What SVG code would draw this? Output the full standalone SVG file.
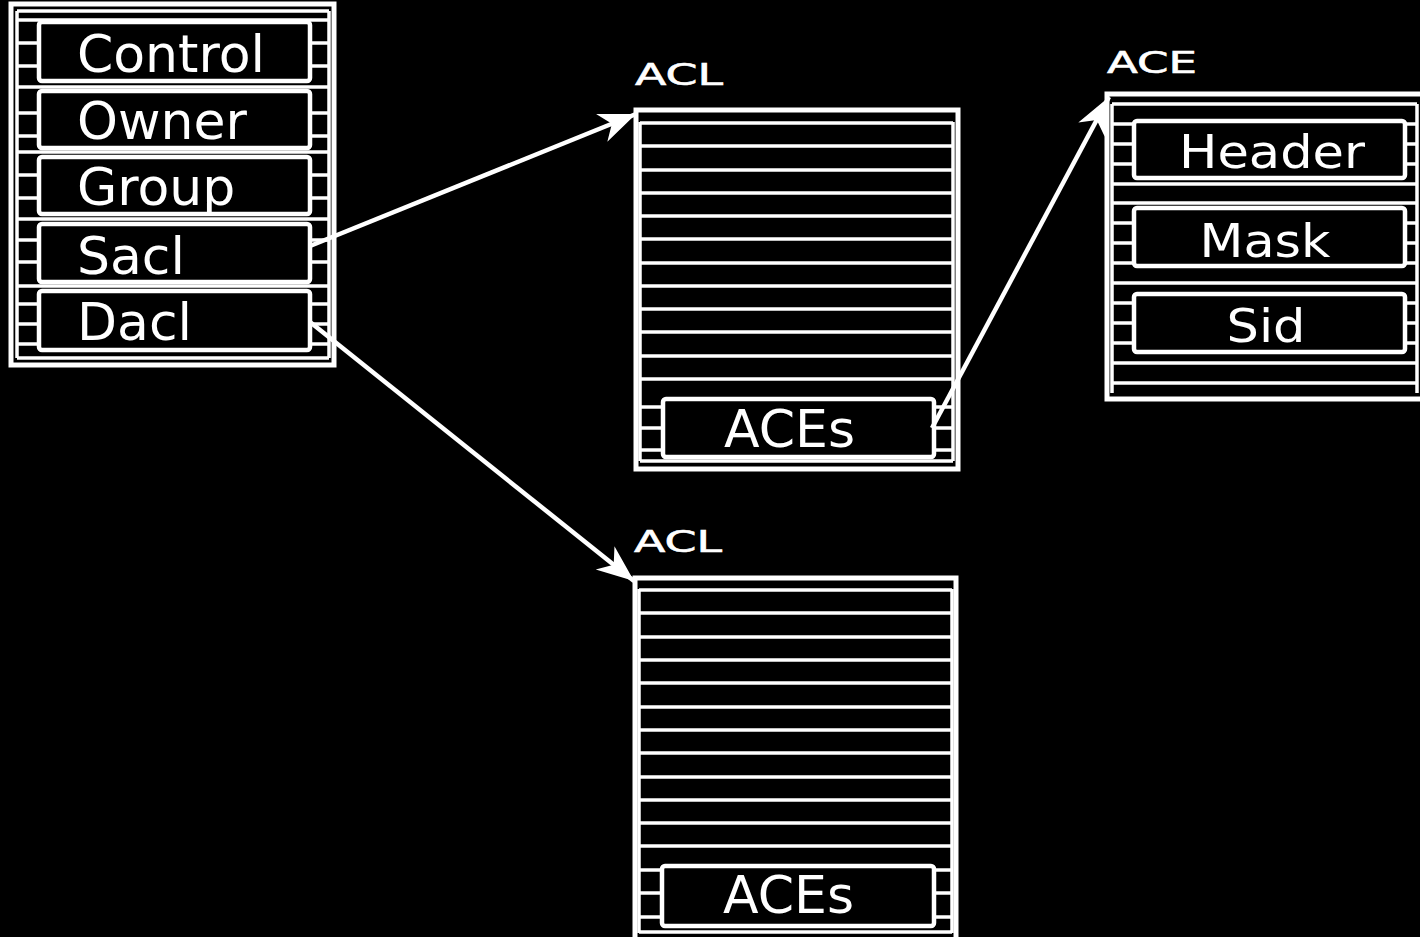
<svg xmlns="http://www.w3.org/2000/svg" width="1420" height="937" viewBox="0 0 1420 937">
  <defs>
    <style>
      .frame { fill: none; stroke: #fff; stroke-width: 5; }
      .rule { stroke: #fff; stroke-width: 3.5; }
      .field { fill: #000; stroke: #fff; stroke-width: 4.5; }
      .big { fill: #fff; font-family: "DejaVu Sans", Verdana, sans-serif; font-size: 52px; }
      .mid { fill: #fff; font-family: "DejaVu Sans", Verdana, sans-serif; font-size: 46px; }
      .title { fill: #fff; font-family: "DejaVu Sans", sans-serif; font-size: 30px; stroke: #fff; stroke-width: 0.6; }
      .link { stroke: #fff; stroke-width: 4.5; fill: none; }
    </style>
    <marker id="arrow" markerUnits="userSpaceOnUse" markerWidth="40" markerHeight="34" refX="0" refY="0" orient="auto" overflow="visible">
      <path d="M0,0 L-37,-15 L-26,0 L-37,15 Z" fill="#fff"/>
    </marker>
  </defs>

  <rect x="0" y="0" width="1420" height="937" fill="#000"/>

  <!-- security descriptor -->
  <g id="descriptor">
    <rect class="frame" x="11" y="4" width="323" height="361"/>
    <line class="rule" x1="17" y1="11" x2="17" y2="358"/>
    <line class="rule" x1="329" y1="11" x2="329" y2="358"/>
    <g class="rule">
      <line x1="17" y1="11" x2="329" y2="11"/>
      <line x1="17" y1="20" x2="329" y2="20"/>
      <line x1="17" y1="43" x2="329" y2="43"/>
      <line x1="17" y1="66" x2="329" y2="66"/>
      <line x1="17" y1="87" x2="329" y2="87"/>
      <line x1="17" y1="113" x2="329" y2="113"/>
      <line x1="17" y1="136" x2="329" y2="136"/>
      <line x1="17" y1="152" x2="329" y2="152"/>
      <line x1="17" y1="175" x2="329" y2="175"/>
      <line x1="17" y1="198" x2="329" y2="198"/>
      <line x1="17" y1="219" x2="329" y2="219"/>
      <line x1="17" y1="240" x2="329" y2="240"/>
      <line x1="17" y1="262" x2="329" y2="262"/>
      <line x1="17" y1="286" x2="329" y2="286"/>
      <line x1="17" y1="304" x2="329" y2="304"/>
      <line x1="17" y1="324" x2="329" y2="324"/>
      <line x1="17" y1="344" x2="329" y2="344"/>
      <line x1="17" y1="358" x2="329" y2="358"/>
    </g>
    <rect class="field" x="39" y="22" width="271" height="59" rx="3"/>
    <rect class="field" x="39" y="91" width="271" height="57" rx="3"/>
    <rect class="field" x="39" y="157" width="271" height="57" rx="3"/>
    <rect class="field" x="39" y="224" width="271" height="58" rx="3"/>
    <rect class="field" x="39" y="291" width="271" height="59" rx="3"/>
    <text class="big" x="77" y="72">Control</text>
    <text class="big" x="77" y="139">Owner</text>
    <text class="big" x="77" y="205">Group</text>
    <text class="big" x="77" y="274">Sacl</text>
    <text class="big" x="77" y="340">Dacl</text>
  </g>

  <!-- system ACL -->
  <g id="acl-sacl">
    <text class="title" x="635" y="85" textLength="88" lengthAdjust="spacingAndGlyphs">ACL</text>
    <rect class="frame" x="636" y="110" width="322" height="359"/>
    <line class="rule" x1="640" y1="122" x2="640" y2="461"/>
    <line class="rule" x1="953" y1="122" x2="953" y2="461"/>
    <g class="rule">
      <line x1="640" y1="123" x2="953" y2="123"/>
      <line x1="640" y1="146" x2="953" y2="146"/>
      <line x1="640" y1="170" x2="953" y2="170"/>
      <line x1="640" y1="193" x2="953" y2="193"/>
      <line x1="640" y1="216" x2="953" y2="216"/>
      <line x1="640" y1="239" x2="953" y2="239"/>
      <line x1="640" y1="263" x2="953" y2="263"/>
      <line x1="640" y1="286" x2="953" y2="286"/>
      <line x1="640" y1="309" x2="953" y2="309"/>
      <line x1="640" y1="332" x2="953" y2="332"/>
      <line x1="640" y1="356" x2="953" y2="356"/>
      <line x1="640" y1="379" x2="953" y2="379"/>
      <line x1="640" y1="407" x2="953" y2="407"/>
      <line x1="640" y1="428" x2="953" y2="428"/>
      <line x1="640" y1="450" x2="953" y2="450"/>
      <line x1="640" y1="461" x2="953" y2="461"/>
    </g>
    <rect class="field" x="663" y="399" width="271" height="58" rx="3"/>
    <text class="big" x="724" y="447" font-size="55" textLength="131" lengthAdjust="spacingAndGlyphs">ACEs</text>
  </g>

  <!-- discretionary ACL -->
  <g id="acl-dacl">
    <text class="title" x="634" y="552" textLength="88" lengthAdjust="spacingAndGlyphs">ACL</text>
    <rect class="frame" x="635" y="578" width="321" height="370"/>
    <line class="rule" x1="639" y1="589" x2="639" y2="933"/>
    <line class="rule" x1="952" y1="589" x2="952" y2="933"/>
    <g class="rule">
      <line x1="639" y1="590" x2="952" y2="590"/>
      <line x1="639" y1="613" x2="952" y2="613"/>
      <line x1="639" y1="637" x2="952" y2="637"/>
      <line x1="639" y1="660" x2="952" y2="660"/>
      <line x1="639" y1="683" x2="952" y2="683"/>
      <line x1="639" y1="707" x2="952" y2="707"/>
      <line x1="639" y1="730" x2="952" y2="730"/>
      <line x1="639" y1="753" x2="952" y2="753"/>
      <line x1="639" y1="777" x2="952" y2="777"/>
      <line x1="639" y1="800" x2="952" y2="800"/>
      <line x1="639" y1="823" x2="952" y2="823"/>
      <line x1="639" y1="846" x2="952" y2="846"/>
      <line x1="639" y1="870" x2="952" y2="870"/>
      <line x1="639" y1="893" x2="952" y2="893"/>
      <line x1="639" y1="917" x2="952" y2="917"/>
      <line x1="639" y1="932" x2="952" y2="932"/>
    </g>
    <rect class="field" x="662" y="866" width="272" height="60" rx="3"/>
    <text class="big" x="723" y="913" font-size="55" textLength="131" lengthAdjust="spacingAndGlyphs">ACEs</text>
  </g>

  <!-- access control entry -->
  <g id="ace">
    <text class="title" x="1107" y="73" textLength="90" lengthAdjust="spacingAndGlyphs">ACE</text>
    <rect class="frame" x="1107" y="94" width="330" height="305"/>
    <line class="rule" x1="1112" y1="104" x2="1112" y2="393"/>
    <line class="rule" x1="1417" y1="104" x2="1417" y2="393"/>
    <g class="rule">
      <line x1="1112" y1="104" x2="1417" y2="104"/>
      <line x1="1112" y1="124" x2="1417" y2="124"/>
      <line x1="1112" y1="144" x2="1417" y2="144"/>
      <line x1="1112" y1="164" x2="1417" y2="164"/>
      <line x1="1112" y1="184" x2="1417" y2="184"/>
      <line x1="1112" y1="203" x2="1417" y2="203"/>
      <line x1="1112" y1="223" x2="1417" y2="223"/>
      <line x1="1112" y1="243" x2="1417" y2="243"/>
      <line x1="1112" y1="263" x2="1417" y2="263"/>
      <line x1="1112" y1="283" x2="1417" y2="283"/>
      <line x1="1112" y1="303" x2="1417" y2="303"/>
      <line x1="1112" y1="323" x2="1417" y2="323"/>
      <line x1="1112" y1="343" x2="1417" y2="343"/>
      <line x1="1112" y1="363" x2="1417" y2="363"/>
      <line x1="1112" y1="383" x2="1417" y2="383"/>
    </g>
    <rect class="field" x="1134" y="121" width="271" height="57" rx="3"/>
    <rect class="field" x="1134" y="208" width="271" height="58" rx="3"/>
    <rect class="field" x="1134" y="294" width="271" height="58" rx="3"/>
    <text class="mid" x="1272" y="168" text-anchor="middle" textLength="186" lengthAdjust="spacingAndGlyphs">Header</text>
    <text class="mid" x="1265" y="257" text-anchor="middle" textLength="131" lengthAdjust="spacingAndGlyphs">Mask</text>
    <text class="mid" x="1266" y="342" text-anchor="middle" textLength="79" lengthAdjust="spacingAndGlyphs">Sid</text>
  </g>

  <!-- pointers -->
  <g id="connectors">
    <line class="link" x1="310" y1="246" x2="636" y2="114" marker-end="url(#arrow)"/>
    <line class="link" x1="310" y1="322" x2="634" y2="581" marker-end="url(#arrow)"/>
    <line class="link" x1="932" y1="428" x2="1109" y2="97" marker-end="url(#arrow)"/>
  </g>
</svg>
